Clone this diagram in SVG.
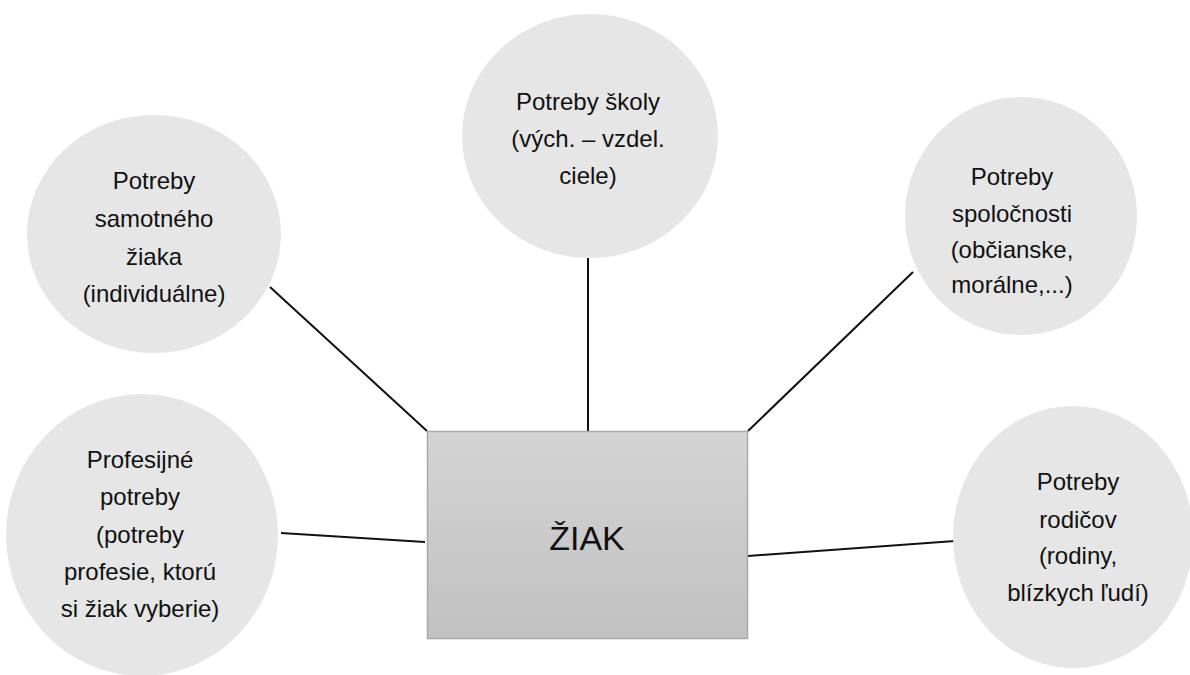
<svg xmlns="http://www.w3.org/2000/svg" width="1190" height="675" viewBox="0 0 1190 675">
<style>
.bub{fill:#e6e6e6;stroke:none}
.t{font-family:"Liberation Sans","Noto Sans",sans-serif;font-size:24px;fill:#111;text-anchor:middle}
.c{stroke:#111;stroke-width:2;fill:none}
</style>
<defs>
<linearGradient id="g" x1="0" y1="0" x2="0" y2="1">
<stop offset="0" stop-color="#d4d4d4"/>
<stop offset="1" stop-color="#c1c1c1"/>
</linearGradient>
</defs>
<rect width="1190" height="675" fill="#fff"/>
<g id="connectors">
<line class="c" x1="588" y1="431" x2="588" y2="258"/>
<line class="c" x1="427" y1="431" x2="270" y2="287"/>
<line class="c" x1="748" y1="431" x2="913" y2="272"/>
<line class="c" x1="281" y1="533" x2="425" y2="542"/>
<line class="c" x1="748" y1="556" x2="955" y2="541"/>
</g>
<g id="node-skoly">
<ellipse class="bub" cx="590" cy="136" rx="128" ry="122"/>
<text class="t" x="588" y="110">Potreby školy</text>
<text class="t" x="588" y="147">(vých. – vzdel.</text>
<text class="t" x="588" y="184">ciele)</text>
</g>
<g id="node-ziaka">
<ellipse class="bub" cx="154" cy="234" rx="127" ry="119"/>
<text class="t" x="154" y="189">Potreby</text>
<text class="t" x="154" y="227">samotného</text>
<text class="t" x="154" y="265">žiaka</text>
<text class="t" x="154" y="302">(individuálne)</text>
</g>
<g id="node-spolocnosti">
<ellipse class="bub" cx="1021" cy="216" rx="116" ry="119"/>
<text class="t" x="1012" y="185">Potreby</text>
<text class="t" x="1012" y="222">spoločnosti</text>
<text class="t" x="1012" y="258">(občianske,</text>
<text class="t" x="1012" y="293">morálne,...)</text>
</g>
<g id="node-profesijne">
<ellipse class="bub" cx="142" cy="535" rx="136" ry="141"/>
<text class="t" x="140" y="468">Profesijné</text>
<text class="t" x="140" y="505">potreby</text>
<text class="t" x="140" y="543">(potreby</text>
<text class="t" x="140" y="580">profesie, ktorú</text>
<text class="t" x="140" y="617">si žiak vyberie)</text>
</g>
<g id="node-rodicov">
<ellipse class="bub" cx="1073" cy="537" rx="120" ry="131"/>
<text class="t" x="1078" y="490">Potreby</text>
<text class="t" x="1078" y="528">rodičov</text>
<text class="t" x="1078" y="564">(rodiny,</text>
<text class="t" x="1078" y="601">blízkych ľudí)</text>
</g>
<g id="node-ziak">
<rect x="427.5" y="431.5" width="320" height="207" fill="url(#g)" stroke="#a9a9a9" stroke-width="1.5"/>
<text class="t" x="587" y="550" style="font-size:34px">ŽIAK</text>
</g>
</svg>
